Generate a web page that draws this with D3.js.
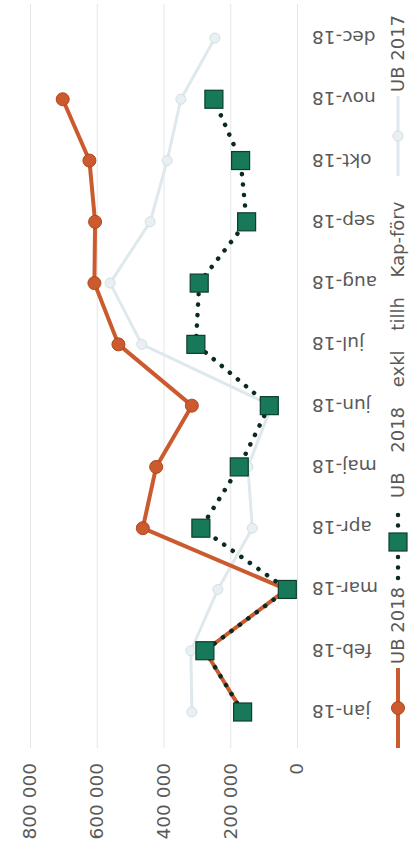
<!DOCTYPE html>
<html>
<head>
<meta charset="utf-8">
<script src="https://cdn.jsdelivr.net/npm/d3@7/dist/d3.min.js"></script>
<style>
  html, body { margin: 0; padding: 0; background: #ffffff; }
  svg { display: block; }
  text { font-family: "DejaVu Sans", sans-serif; fill: #595959; }
</style>
</head>
<body>
<div id="chart"></div>
<script>
// ---- data ----
const months = ["jan-18","feb-18","mar-18","apr-18","maj-18","jun-18","jul-18","aug-18","sep-18","okt-18","nov-18","dec-18"];
const ub2018 = [163000, 276000, 31000, 462000, 422000, 315000, 535000, 607000, 605000, 622000, 702000, null];
const ub2018Exkl = [163000, 276000, 29000, 288000, 173000, 83000, 303000, 293000, 151000, 169000, 249000, null];
const ub2017 = [315000, 318000, 237000, 134000, 147000, 76000, 465000, 560000, 440000, 389000, 348000, 246000];
const yTicks = [0, 200000, 400000, 600000, 800000];
const seriesNames = ["UB 2018", "UB 2018 exkl tillh Kap-förv", "UB 2017"];

// ---- layout (chart drawn in landscape, then rotated to portrait) ----
const SW = 411, SH = 852;          // screen size
const plot = { left: 104, right: 848, top: 30, bottom: 297 };

const svg = d3.select("#chart").append("svg").attr("width", SW).attr("height", SH);
const g = svg.append("g").attr("transform", `translate(0,${SH}) rotate(-90)`);

const x = d3.scalePoint().domain(months).range([140, 814]);
const y = d3.scaleLinear().domain([0, 800000]).range([plot.bottom, plot.top]);

const locale = d3.formatLocale({ decimal: ",", thousands: " ", grouping: [3], currency: ["", " kr"] });
const fmt = locale.format(",");

// y axis with gridlines
const yAxis = g.append("g").attr("transform", `translate(${plot.left},0)`)
  .call(d3.axisLeft(y).tickValues(yTicks).tickFormat(fmt)
    .tickSize(-(plot.right - plot.left)).tickPadding(15));
yAxis.select(".domain").remove();
yAxis.selectAll(".tick line").attr("stroke", "#e6e6e6").attr("stroke-width", 1);
yAxis.selectAll(".tick text").style("font-size", "18.5px").attr("fill", "#595959");

// x axis labels (rotated)
const xAxis = g.append("g").attr("transform", `translate(0,${y(0)})`)
  .call(d3.axisBottom(x).tickSize(0));
xAxis.select(".domain").remove();
xAxis.selectAll(".tick text")
  .attr("transform", "rotate(-90)")
  .attr("x", -15).attr("y", 0).attr("dy", "0.35em")
  .attr("text-anchor", "end")
  .style("font-size", "18.5px").attr("fill", "#595959");

// ---- series ----
const line = d3.line()
  .defined(d => d.v !== null)
  .x(d => x(d.m)).y(d => y(d.v));
const toPts = arr => months.map((m, i) => ({ m, v: arr[i] }));

const c2018 = "#cb5a2e", c2018s = "#b0461f";
const cGreen = "#17795a", cGreenS = "#0c3e2c", cDot = "#0d2a20";
const c2017 = "#dfe8ec", c2017s = "#d3dfe4";

// UB 2017
g.append("path").datum(toPts(ub2017)).attr("d", line)
  .attr("fill", "none").attr("stroke", c2017).attr("stroke-width", 3);
g.append("g").selectAll("circle").data(toPts(ub2017).filter(d => d.v !== null)).join("circle")
  .attr("cx", d => x(d.m)).attr("cy", d => y(d.v)).attr("r", 5)
  .attr("fill", "#e9f0f3").attr("stroke", c2017s).attr("stroke-width", 1);

// UB 2018
g.append("path").datum(toPts(ub2018)).attr("d", line)
  .attr("fill", "none").attr("stroke", c2018).attr("stroke-width", 4).attr("stroke-linejoin", "round");
g.append("g").selectAll("circle").data(toPts(ub2018).filter(d => d.v !== null)).join("circle")
  .attr("cx", d => x(d.m)).attr("cy", d => y(d.v)).attr("r", 6.5)
  .attr("fill", c2018).attr("stroke", c2018s).attr("stroke-width", 1);

// UB 2018 exkl
g.append("path").datum(toPts(ub2018Exkl)).attr("d", line)
  .attr("fill", "none").attr("stroke", cDot).attr("stroke-width", 4.5)
  .attr("stroke-linecap", "round").attr("stroke-dasharray", "0.1 10.4");
const sq = 18;
g.append("g").selectAll("rect").data(toPts(ub2018Exkl).filter(d => d.v !== null)).join("rect")
  .attr("x", d => x(d.m) - sq / 2).attr("y", d => y(d.v) - sq / 2)
  .attr("width", sq).attr("height", sq)
  .attr("fill", cGreen).attr("stroke", cGreenS).attr("stroke-width", 1.2);

// ---- legend ----
const ly = 398;
const leg = g.append("g");
// UB 2018
leg.append("line").attr("x1", 104).attr("x2", 184).attr("y1", ly).attr("y2", ly)
  .attr("stroke", c2018).attr("stroke-width", 4);
leg.append("circle").attr("cx", 144).attr("cy", ly).attr("r", 6.5)
  .attr("fill", c2018).attr("stroke", c2018s);
leg.append("text").attr("x", 188).attr("y", ly).attr("dy", "0.35em")
  .style("font-size", "18px").text(seriesNames[0]);
// UB 2018 exkl
leg.append("line").attr("x1", 274).attr("x2", 346).attr("y1", ly).attr("y2", ly)
  .attr("stroke", cDot).attr("stroke-width", 4.5).attr("stroke-linecap", "round")
  .attr("stroke-dasharray", "0.1 10.4");
leg.append("rect").attr("x", 310 - sq / 2).attr("y", ly - sq / 2).attr("width", sq).attr("height", sq)
  .attr("fill", cGreen).attr("stroke", cGreenS).attr("stroke-width", 1.2);
leg.append("text").attr("x", 354).attr("y", ly).attr("dy", "0.35em")
  .style("font-size", "18px").style("word-spacing", "14px").text(seriesNames[1]);
// UB 2017
leg.append("line").attr("x1", 676).attr("x2", 756).attr("y1", ly).attr("y2", ly)
  .attr("stroke", c2017).attr("stroke-width", 3);
leg.append("circle").attr("cx", 716).attr("cy", ly).attr("r", 5)
  .attr("fill", "#e9f0f3").attr("stroke", c2017s);
leg.append("text").attr("x", 760).attr("y", ly).attr("dy", "0.35em")
  .style("font-size", "18px").text(seriesNames[2]);
</script>
</body>
</html>
